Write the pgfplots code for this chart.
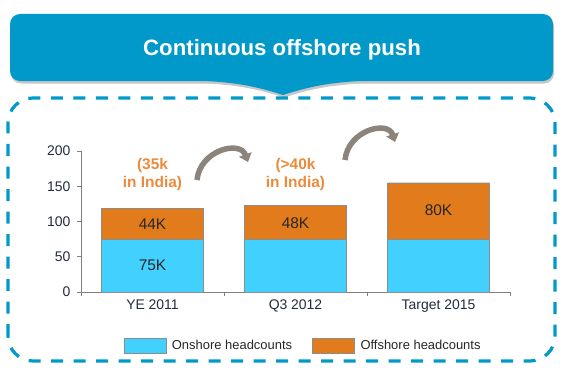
\documentclass[border=0pt]{standalone}
\usepackage{fontspec}
\setmainfont{Liberation Sans}
\usepackage{pgfplots}
\pgfplotsset{compat=1.18}
\usetikzlibrary{arrows.meta}
\definecolor{bannerblue}{HTML}{0099C9}
\definecolor{onshore}{HTML}{42D1FF}
\definecolor{offshore}{HTML}{E27B1B}
\definecolor{annot}{HTML}{EC8A3C}
\definecolor{arrowgray}{HTML}{8C837B}
\definecolor{txt}{HTML}{262626}
\definecolor{ticktxt}{HTML}{222A40}
\pgfplotsset{myleg/.style={legend image code/.code={\draw[##1] (0bp,-7.5bp) rectangle (42bp,7.5bp);}}}
\newcommand{\bannershape}{%
  \fill[rounded corners=10bp] (10,295) rectangle (553,362);
  \fill (190,296) to[out=-3,in=162] (283,281) to[out=18,in=183] (376,296) -- cycle;}
\begin{document}
\begin{tikzpicture}[x=1bp,y=1bp]
\path[use as bounding box] (0,0) rectangle (563,376);
\begin{scope}[shift={(1,-2.5)}, black!22]
  \bannershape
\end{scope}
\begin{scope}[bannerblue]
  \bannershape
\end{scope}
\node[anchor=base, text=white, font=\bfseries\fontsize{22.3}{26}\selectfont] at (282,321) {Continuous offshore push};
\draw[bannerblue, line width=3.2bp, dash pattern=on 12bp off 10.5bp, rounded corners=25bp] (8,15) rectangle (555,278);
\begin{axis}[
  at={(152.5bp,84bp)}, anchor=origin,
  scale only axis, width=429bp, height=141bp,
  xmin=-0.5, xmax=2.5, ymin=0, ymax=200,
  axis x line*=bottom, axis y line*=left,
  axis line style={draw=black!50, line width=0.8bp},
  ybar stacked, bar width=0.713,
  tick align=outside,
  major tick length=4bp, minor tick length=4bp,
  tick style={draw=black!50, line width=0.8bp},
  ytick={0,50,100,150,200},
  xtick={0,1,2},
  xticklabels={YE 2011, Q3 2012, Target 2015},
  major x tick style={draw=none},
  minor xtick={-0.5,0.5,1.5,2.5},
  minor x tick style={draw=black!50, line width=0.8bp},
  /pgf/number format/assume math mode=true,
  y tick label style={font=\fontsize{14}{16}\selectfont, text=ticktxt, xshift=-3bp},
  x tick label style={font=\fontsize{14}{16}\selectfont, text=ticktxt},
  clip=false,
  legend columns=2,
  legend style={at={(axis description cs:0.5175,-0.383)}, anchor=center, draw=none, fill=none,
    font=\fontsize{13}{15}\selectfont, text=txt,
    /tikz/every odd column/.append style={column sep=4bp},
    /tikz/every even column/.append style={column sep=18bp}},
  legend cell align=left,
]
\addplot[fill=onshore, draw=black!45, myleg] coordinates {(0,75) (1,75) (2,75)};
\addplot[fill=offshore, draw=black!45, myleg] coordinates {(0,44) (1,48) (2,80)};
\legend{Onshore headcounts, Offshore headcounts}
\coordinate (l75) at (axis cs:0,38);
\coordinate (l44) at (axis cs:0,96.5);
\coordinate (l48) at (axis cs:1,98);
\coordinate (l80) at (axis cs:2,116);
\coordinate (a1) at (axis cs:0,167);
\coordinate (a2) at (axis cs:1,167);
\end{axis}
\node[font=\fontsize{15.5}{18}\selectfont, text=txt] at (l75) {75K};
\node[font=\fontsize{15.5}{18}\selectfont, text=txt] at (l44) {44K};
\node[font=\fontsize{15.5}{18}\selectfont, text=txt] at (l48) {48K};
\node[font=\fontsize{15.5}{18}\selectfont, text=txt] at (l80) {80K};
\node[align=center, font=\bfseries\fontsize{15.5}{18}\selectfont, text=annot] at (a1) {(35k\\in India)};
\node[align=center, font=\bfseries\fontsize{15.5}{18}\selectfont, text=annot] at (a2) {(\textgreater40k\\in India)};
\draw[arrowgray, line width=5.5bp, -{Triangle[length=8bp,width=13bp]}] (197,196) .. controls (200,226) and (240,236) .. (248,214);
\draw[arrowgray, line width=5.5bp, -{Triangle[length=8bp,width=13bp]}] (345,216) .. controls (348,246) and (388,256) .. (395,234);
\end{tikzpicture}
\end{document}
